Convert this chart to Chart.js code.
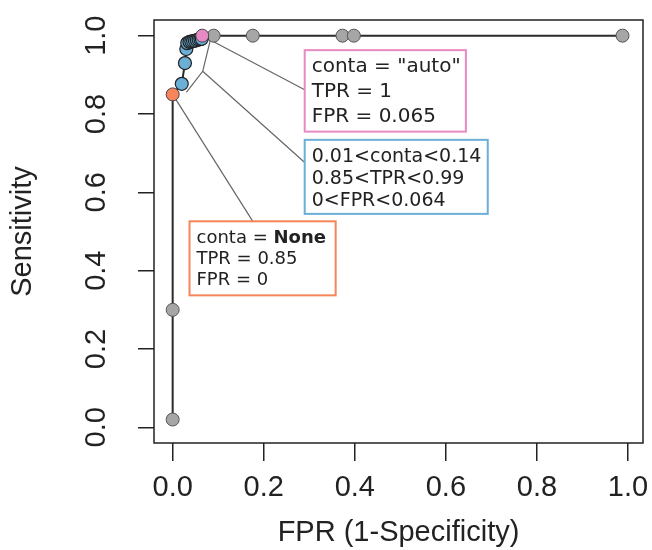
<!DOCTYPE html>
<html lang="en">
<head>
  <meta charset="UTF-8" />
  <title>ROC – conta</title>
  <script src="https://cdn.jsdelivr.net/npm/chart.js@4.4.0/dist/chart.umd.min.js"></script>
  <style>
    html, body { margin: 0; padding: 0; background: #fff; }
    #wrap { width: 652px; height: 550px; }
  </style>
</head>
<body>
  <div id="wrap"><canvas id="roc"></canvas></div>
  <script>
    // points (FPR, TPR)
    const grayFpr = [0, 0, 0.09, 0.176, 0.373, 0.398, 0.988];
    const grayTpr = [0.02, 0.30, 1.0, 1.0, 1.0, 1.0, 1.0];
    const blueFpr = [0.020, 0.027, 0.030, 0.032, 0.037, 0.041, 0.045, 0.049, 0.053, 0.057, 0.061, 0.064];
    const blueTpr = [0.877, 0.930, 0.966, 0.981, 0.984, 0.985, 0.986, 0.987, 0.989, 0.990, 0.991, 0.992];
    const noneFpr = [0];
    const noneTpr = [0.85];
    const autoFpr = [0.065];
    const autoTpr = [1.0];
    const tickValues = [0, 0.2, 0.4, 0.6, 0.8, 1.0];

    const pts = (xs, ys) => xs.map((x, i) => ({ x: x, y: ys[i] }));

    // curve runs through every threshold in order
    const curve = [].concat(
      pts(grayFpr.slice(0, 2), grayTpr.slice(0, 2)),
      pts(noneFpr, noneTpr),
      pts(blueFpr, blueTpr),
      pts(autoFpr, autoTpr),
      pts(grayFpr.slice(2), grayTpr.slice(2))
    );

    const PINK = '#e78ac3', BLUE = '#6baed6', ORANGE = '#f7845a';
    const axisFont = { family: '"Liberation Sans", Arial, sans-serif', size: 29 };

    // callout boxes, in data units
    const notes = [
      { color: PINK, x: [0.29, 0.644], y: [0.963, 0.755], size: 20, gap: 25,
        lines: [[{ t: 'conta = "auto"' }], [{ t: 'TPR = 1' }], [{ t: 'FPR = 0.065' }]] },
      { color: BLUE, x: [0.29, 0.692], y: [0.734, 0.545], size: 19, gap: 22,
        lines: [[{ t: '0.01<conta<0.14' }], [{ t: '0.85<TPR<0.99' }], [{ t: '0<FPR<0.064' }]] },
      { color: ORANGE, x: [0.037, 0.358], y: [0.526, 0.337], size: 18, gap: 21,
        lines: [[{ t: 'conta = ' }, { t: 'None', bold: true }], [{ t: 'TPR = 0.85' }], [{ t: 'FPR = 0' }]] }
    ];
    // leader lines, in data units
    const leaders = [
      [[0.065, 1.0], [0.29, 0.862]],
      [[0.084, 0.995], [0.066, 0.909], [0.03, 0.855]],
      [[0.066, 0.909], [0.29, 0.676]],
      [[0, 0.85], [0.176, 0.526]]
    ];

    const notesPlugin = {
      id: 'notes',
      beforeDatasetsDraw(chart) {
        const { ctx, scales: { x, y } } = chart;
        ctx.save();
        ctx.strokeStyle = '#666';
        ctx.lineWidth = 1.2;
        leaders.forEach(path => {
          ctx.beginPath();
          path.forEach((p, i) => {
            const px = x.getPixelForValue(p[0]), py = y.getPixelForValue(p[1]);
            if (i === 0) ctx.moveTo(px, py); else ctx.lineTo(px, py);
          });
          ctx.stroke();
        });
        ctx.restore();
      },
      afterDatasetsDraw(chart) {
        const { ctx, chartArea: a, scales: { x, y } } = chart;
        ctx.save();
        // plot frame
        ctx.strokeStyle = '#222';
        ctx.lineWidth = 1.5;
        ctx.strokeRect(a.left, a.top, a.right - a.left, a.bottom - a.top);

        notes.forEach(n => {
          const l = x.getPixelForValue(n.x[0]), r = x.getPixelForValue(n.x[1]);
          const t = y.getPixelForValue(n.y[0]), b = y.getPixelForValue(n.y[1]);
          ctx.fillStyle = '#fff';
          ctx.fillRect(l, t, r - l, b - t);
          ctx.strokeStyle = n.color;
          ctx.lineWidth = 2;
          ctx.strokeRect(l, t, r - l, b - t);
          ctx.fillStyle = '#222';
          ctx.textBaseline = 'alphabetic';
          ctx.textAlign = 'left';
          n.lines.forEach((segs, i) => {
            let cx = l + 7;
            segs.forEach(s => {
              ctx.font = (s.bold ? 'bold ' : '') + n.size + 'px "DejaVu Sans", sans-serif';
              ctx.fillText(s.t, cx, t + 22 + i * n.gap);
              cx += ctx.measureText(s.t).width;
            });
          });
        });
        ctx.restore();
      }
    };

    const setTicks = scale => { scale.ticks = tickValues.map(v => ({ value: v })); };

    new Chart(document.getElementById('roc'), {
      type: 'scatter',
      data: {
        datasets: [
          { data: pts(autoFpr, autoTpr), order: 1, backgroundColor: PINK, borderColor: '#444', borderWidth: 1, pointRadius: 6.5 },
          { data: pts(noneFpr, noneTpr), order: 2, backgroundColor: ORANGE, borderColor: '#444', borderWidth: 1, pointRadius: 6.5 },
          { data: pts(blueFpr, blueTpr), order: 3, backgroundColor: BLUE, borderColor: '#222', borderWidth: 1.2, pointRadius: 6.5 },
          { data: pts(grayFpr, grayTpr), order: 4, backgroundColor: '#a6a6a6', borderColor: '#555', borderWidth: 1, pointRadius: 6.5 },
          { data: curve, order: 5, showLine: true, borderColor: '#2b2b2b', borderWidth: 2, pointRadius: 0, fill: false }
        ]
      },
      options: {
        responsive: true,
        maintainAspectRatio: false,
        animation: false,
        events: [],
        layout: { padding: { top: 20, right: 9, left: 0, bottom: 0 } },
        plugins: { legend: { display: false }, tooltip: { enabled: false } },
        scales: {
          x: {
            type: 'linear',
            min: -0.041,
            max: 1.033,
            afterBuildTicks: setTicks,
            afterFit: s => { s.height = 107; s.paddingLeft = 0; s.paddingRight = 0; },
            border: { display: false },
            grid: { drawOnChartArea: false, drawTicks: true, tickLength: 18, color: '#222', lineWidth: 1.5 },
            ticks: { font: axisFont, color: '#222', padding: 10, autoSkip: false, maxRotation: 0,
                     callback: v => v.toFixed(1) },
            title: { display: true, text: 'FPR (1-Specificity)', font: axisFont, color: '#222',
                     padding: { top: 0, bottom: 0 } }
          },
          y: {
            type: 'linear',
            min: -0.04,
            max: 1.04,
            afterBuildTicks: setTicks,
            afterFit: s => { s.width = 154; s.paddingTop = 0; s.paddingBottom = 0; },
            border: { display: false },
            grid: { drawOnChartArea: false, drawTicks: true, tickLength: 16, color: '#222', lineWidth: 1.5 },
            ticks: { font: axisFont, color: '#222', padding: 21, autoSkip: false, minRotation: 90, maxRotation: 90,
                     crossAlign: 'center', callback: v => v.toFixed(1) },
            title: { display: true, text: 'Sensitivity', font: axisFont, color: '#222',
                     padding: { top: 6, bottom: 0 } }
          }
        }
      },
      plugins: [notesPlugin]
    });
  </script>
</body>
</html>
